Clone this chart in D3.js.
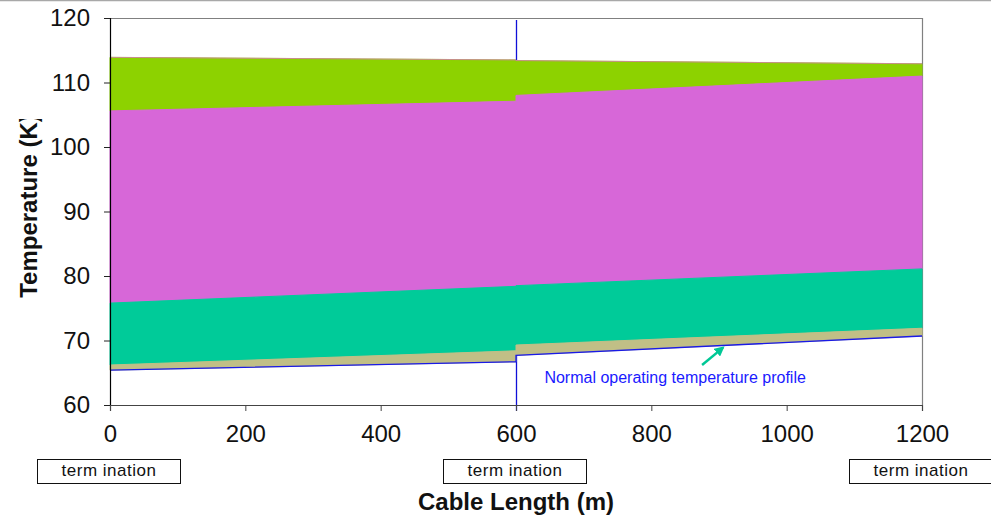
<!DOCTYPE html>
<html>
<head>
<meta charset="utf-8">
<script src="https://cdn.jsdelivr.net/npm/d3@7"></script>
<style>
	body { margin: 0; background: #fff; }
	svg { display: block; font-family: "Liberation Sans", Arial, sans-serif; }
</style>
</head>
<body>
<svg id="chart" width="991" height="516"></svg>
<script>
// cable distance (m); two cable sections join at the 600 m termination
var distance      = [0, 600, 600, 1200];
// temperatures (K), bottom to top of each band
var normalProfile = [65.4, 66.7, 67.7, 70.7];
var khakiTop      = [66.2, 68.4, 69.3, 71.9];
var tealTop       = [75.8, 78.4, 78.5, 81.1];
var pinkTop       = [105.6, 107.1, 108.0, 111.0];
var greenTop      = [113.9, 113.5, 113.4, 112.9];

var xTicks = [0, 200, 400, 600, 800, 1000, 1200];
var yTicks = [60, 70, 80, 90, 100, 110, 120];
var terminations = [0, 600, 1200];

(function() {

	var svg = d3.select("#chart");

	var x = d3.scaleLinear().domain([0, 1200]).range([110, 922]);
	var y = d3.scaleLinear().domain([60, 120]).range([405, 18]);

	// slide edge line at the very top
	svg.append("line")
		.attr("x1", 0).attr("x2", 991)
		.attr("y1", 0.5).attr("y2", 0.5)
		.attr("stroke", "#a8a8a8")
		.attr("stroke-width", 1.5);

	function band(lower, upper) {
		return d3.area()
			.x((d, i) => x(distance[i]))
			.y0((d, i) => y(lower[i]))
			.y1((d, i) => y(upper[i]))(distance);
	}

	var bands = [
		{lo: pinkTop, hi: greenTop, color: "#8dd200"},
		{lo: tealTop, hi: pinkTop, color: "#d767d8"},
		{lo: khakiTop, hi: tealTop, color: "#00cb99"},
		{lo: normalProfile, hi: khakiTop, color: "#c1bf86"}
	];

	// plot frame (top and right, grey)
	svg.append("path")
		.attr("d", "M" + x(0) + "," + (y(120) + 0.5) + "H" + (x(1200) + 0.5) + "V" + y(60))
		.attr("fill", "none")
		.attr("stroke", "#808080")
		.attr("stroke-width", 1.2);

	// termination marker at 600 m, sits behind the bands
	svg.append("line")
		.attr("x1", x(600) + 0.5).attr("x2", x(600) + 0.5)
		.attr("y1", y(119.7)).attr("y2", y(60) + 6)
		.attr("stroke", "#1010d8")
		.attr("stroke-width", 1.3);

	svg.selectAll(".band")
		.data(bands)
		.enter()
		.append("path")
			.attr("class", "band")
			.attr("d", d => band(d.lo, d.hi))
			.attr("fill", d => d.color)
			.attr("stroke", d => d.color)
			.attr("stroke-width", 1);

	var line = d3.line()
		.x((d, i) => x(distance[i]))
		.y(d => y(d));

	// faint max line on top of the green band
	svg.append("path")
		.attr("d", line(greenTop))
		.attr("fill", "none")
		.attr("stroke", "#e070c8")
		.attr("stroke-opacity", 0.7)
		.attr("stroke-width", 1);

	// normal operating profile
	svg.append("path")
		.attr("d", line(normalProfile))
		.attr("fill", "none")
		.attr("stroke", "#1a1ae6")
		.attr("stroke-width", 1.3);

	// y axis
	var yAxis = svg.append("g")
		.attr("transform", "translate(" + x(0) + ",0)")
		.call(d3.axisLeft(y).tickValues(yTicks).tickSize(6).tickPadding(14));
	yAxis.select(".domain").attr("stroke", "#000").attr("stroke-width", 1.2);
	yAxis.selectAll(".tick line").attr("stroke", "#222");
	yAxis.selectAll("text")
		.attr("font-size", "24px")
		.attr("fill", "#111")
		.attr("font-family", "'Liberation Sans', Arial, sans-serif");

	// x axis
	var xAxis = svg.append("g")
		.attr("transform", "translate(0," + y(60) + ")")
		.call(d3.axisBottom(x).tickValues(xTicks).tickFormat(d3.format("d"))
			.tickSize(6).tickPadding(14));
	xAxis.select(".domain").attr("stroke", "#444").attr("stroke-width", 1.2);
	xAxis.selectAll(".tick line").attr("stroke", "#444");
	xAxis.selectAll("text")
		.attr("font-size", "24px")
		.attr("fill", "#111")
		.attr("font-family", "'Liberation Sans', Arial, sans-serif");

	// annotation
	svg.append("text")
		.attr("x", x(642))
		.attr("y", y(63.4))
		.attr("font-size", "16px")
		.attr("fill", "#1a1aff")
		.text("Normal operating temperature profile");

	svg.append("defs").append("marker")
		.attr("id", "arrowhead")
		.attr("viewBox", "0 0 10 10")
		.attr("refX", 8).attr("refY", 5)
		.attr("markerWidth", 4).attr("markerHeight", 4)
		.attr("orient", "auto")
		.append("path")
			.attr("d", "M0,0L10,5L0,10Z")
			.attr("fill", "#00c896");

	svg.append("line")
		.attr("x1", x(875)).attr("y1", y(66.2))
		.attr("x2", x(906)).attr("y2", y(68.9))
		.attr("stroke", "#00c896")
		.attr("stroke-width", 2.5)
		.attr("marker-end", "url(#arrowhead)");

	// termination boxes under the axis
	var boxes = svg.selectAll(".term")
		.data(terminations)
		.enter()
		.append("g")
			.attr("class", "term")
			.attr("transform", d => "translate(" + (x(d) - 1) + ",459)");

	boxes.append("rect")
		.attr("x", -71.5).attr("y", 0.5)
		.attr("width", 143).attr("height", 24)
		.attr("fill", "#fff")
		.attr("stroke", "#111")
		.attr("stroke-width", 1);

	boxes.append("text")
		.attr("x", 0).attr("y", 17)
		.attr("text-anchor", "middle")
		.attr("font-size", "17px")
		.attr("letter-spacing", "0.5px")
		.attr("fill", "#111")
		.text("term ination");

	// axis titles
	svg.append("text")
		.attr("x", x(600))
		.attr("y", 510)
		.attr("text-anchor", "middle")
		.attr("font-size", "24px")
		.attr("font-weight", "bold")
		.attr("fill", "#111")
		.text("Cable Length (m)");

	svg.append("clipPath")
		.attr("id", "titleclip")
		.append("rect")
			.attr("x", 0).attr("y", 119)
			.attr("width", 100).attr("height", 300);

	svg.append("g")
		.attr("clip-path", "url(#titleclip)")
		.append("text")
			.attr("transform", "translate(37,206) rotate(-90)")
			.attr("text-anchor", "middle")
			.attr("font-size", "24px")
			.attr("font-weight", "bold")
			.attr("fill", "#111")
			.text("Temperature (K)");

}) ();
</script>
</body>
</html>
